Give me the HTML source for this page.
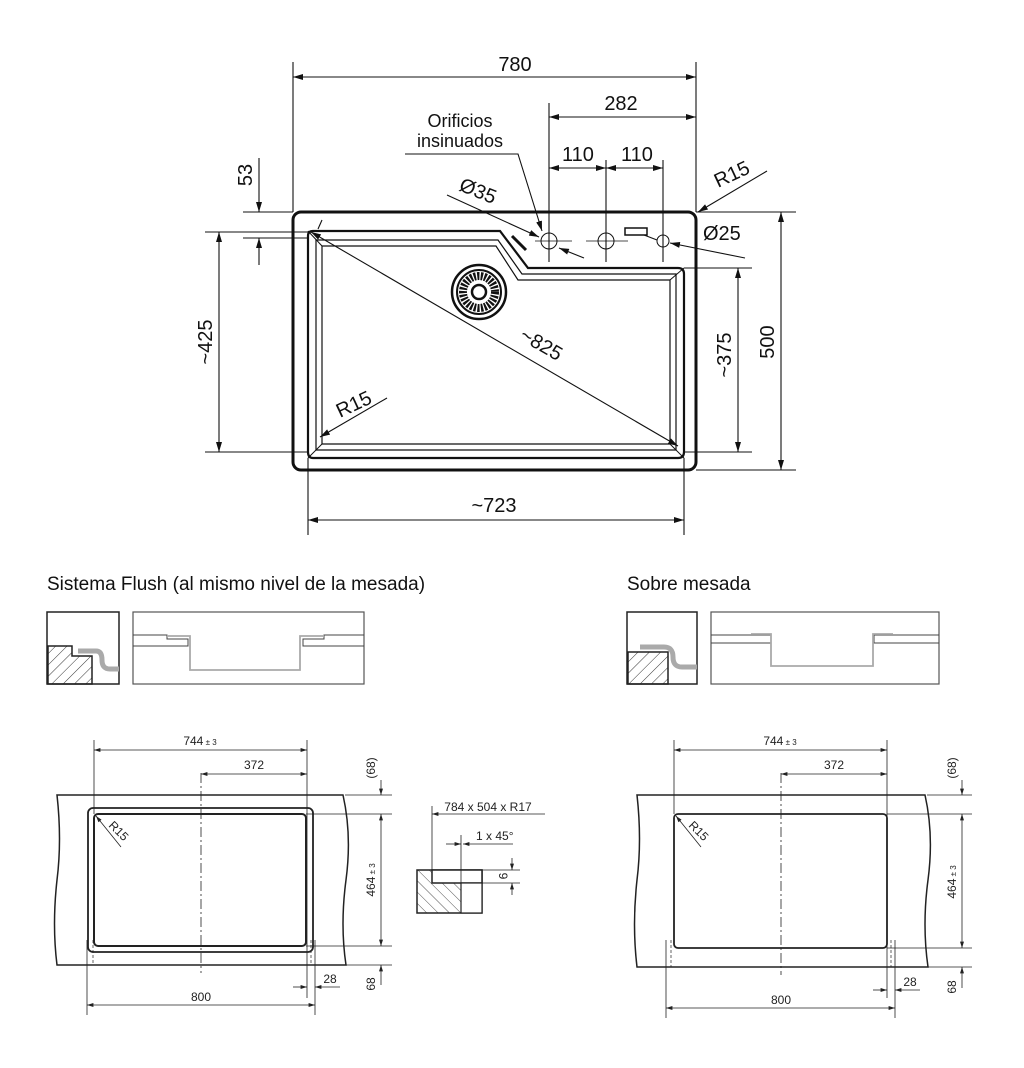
<!DOCTYPE html>
<html><head><meta charset="utf-8"><style>
html,body{margin:0;padding:0;background:#fff;}
svg{display:block;font-family:"Liberation Sans",Arial,sans-serif;}
</style></head><body>
<svg width="1024" height="1068" viewBox="0 0 1024 1068" xmlns="http://www.w3.org/2000/svg">
<defs>
<marker id="a" viewBox="0 0 10 6" refX="10" refY="3" markerWidth="10" markerHeight="6" orient="auto-start-reverse" markerUnits="userSpaceOnUse"><path d="M0,0L10,3L0,6z" fill="#111"/></marker>
<marker id="s" viewBox="0 0 8 5" refX="8" refY="2.5" markerWidth="7" markerHeight="4" orient="auto-start-reverse" markerUnits="userSpaceOnUse"><path d="M0,0L8,2.5L0,5z" fill="#222"/></marker>
<pattern id="h" width="8" height="8" patternUnits="userSpaceOnUse" patternTransform="rotate(45)"><line x1="0" y1="0" x2="0" y2="8" stroke="#333" stroke-width="1"/></pattern>
<pattern id="h2" width="8" height="8" patternUnits="userSpaceOnUse" patternTransform="rotate(-45)"><line x1="0" y1="0" x2="0" y2="8" stroke="#555" stroke-width="1"/></pattern>
</defs>
<g fill="none" stroke="#111">
<rect x="293" y="212" width="403" height="258" rx="8" stroke-width="3"/>
<path d="M308,236 Q308,231 313,231 L500,231 L528,268 L678,268 Q684,268 684,274 L684,452 Q684,458 678,458 L313,458 Q308,458 308,452 Z" stroke-width="2.2"/>
<path d="M316,240 L498,240 L522,274 L676,274 L676,450 L316,450 Z" stroke-width="1.2"/>
<path d="M322,246 L496,246 L518,280 L670,280 L670,444 L322,444 Z" stroke-width="1.2"/>
<line x1="308" y1="231" x2="322" y2="246" stroke-width="1"/>
<line x1="684" y1="458" x2="670" y2="444" stroke-width="1"/>
<line x1="308" y1="458" x2="322" y2="444" stroke-width="1"/>
<line x1="684" y1="268" x2="670" y2="280" stroke-width="1"/>
<line x1="512" y1="236" x2="526" y2="250" stroke-width="3"/>
<circle cx="479" cy="292" r="27" stroke-width="2.5"/>
<circle cx="479" cy="292" r="22" stroke-width="2"/>
<circle cx="479" cy="292" r="16" stroke-width="8" stroke-dasharray="2.2 1.3"/>
<circle cx="479" cy="292" r="7" stroke-width="2.5"/>
<circle cx="549" cy="241" r="8" stroke-width="1"/>
<circle cx="606" cy="241" r="8" stroke-width="1"/>
<circle cx="663" cy="241" r="6" stroke-width="1"/>
<rect x="625" y="228" width="22" height="7" stroke-width="1.5"/>
<line x1="535" y1="241" x2="572" y2="241" stroke-width="0.8"/><line x1="586" y1="241" x2="628" y2="241" stroke-width="0.8"/>
<g stroke-width="1.1">
<line x1="293" y1="62" x2="293" y2="212"/><line x1="696" y1="62" x2="696" y2="212"/>
<line x1="293" y1="77" x2="696" y2="77" marker-start="url(#a)" marker-end="url(#a)"/>
<line x1="549" y1="103" x2="549" y2="262"/><line x1="606" y1="160" x2="606" y2="262"/><line x1="663" y1="160" x2="663" y2="262"/>
<line x1="549" y1="117" x2="696" y2="117" marker-start="url(#a)" marker-end="url(#a)"/>
<line x1="549" y1="168" x2="606" y2="168" marker-start="url(#a)" marker-end="url(#a)"/>
<line x1="606" y1="168" x2="663" y2="168" marker-start="url(#a)" marker-end="url(#a)"/>
<polyline points="405,154 518,154 542,231" marker-end="url(#a)"/>
<line x1="447" y1="195" x2="539" y2="237" marker-end="url(#a)"/>
<line x1="584" y1="258" x2="559" y2="248" marker-end="url(#a)"/>
<line x1="767" y1="171" x2="698" y2="212" marker-end="url(#a)"/>
<line x1="745" y1="258" x2="670" y2="243" marker-end="url(#a)"/>
<line x1="644" y1="235" x2="657" y2="240"/>
<line x1="243" y1="212" x2="293" y2="212"/><line x1="243" y1="238" x2="308" y2="238"/>
<line x1="259" y1="158" x2="259" y2="212" marker-end="url(#a)"/>
<line x1="259" y1="265" x2="259" y2="238" marker-end="url(#a)"/>
<line x1="205" y1="232" x2="308" y2="232"/><line x1="205" y1="452" x2="308" y2="452"/>
<line x1="219" y1="232" x2="219" y2="452" marker-start="url(#a)" marker-end="url(#a)"/>
<line x1="684" y1="268" x2="752" y2="268"/><line x1="684" y1="452" x2="752" y2="452"/>
<line x1="738" y1="268" x2="738" y2="452" marker-start="url(#a)" marker-end="url(#a)"/>
<line x1="696" y1="212" x2="796" y2="212"/><line x1="696" y1="470" x2="796" y2="470"/>
<line x1="781" y1="212" x2="781" y2="470" marker-start="url(#a)" marker-end="url(#a)"/>
<line x1="308" y1="458" x2="308" y2="535"/><line x1="684" y1="458" x2="684" y2="535"/>
<line x1="308" y1="520" x2="684" y2="520" marker-start="url(#a)" marker-end="url(#a)"/>
<line x1="311" y1="232" x2="678" y2="446" marker-start="url(#a)" marker-end="url(#a)"/>
<line x1="318" y1="229" x2="322" y2="220"/>
<line x1="387" y1="398" x2="320" y2="437" marker-end="url(#a)"/>
</g>
</g>
<g fill="#111">
<text x="515" y="71" font-size="20" text-anchor="middle">780</text>
<text x="621" y="110" font-size="20" text-anchor="middle">282</text>
<text x="578" y="161" font-size="20" text-anchor="middle">110</text>
<text x="637" y="161" font-size="20" text-anchor="middle">110</text>
<text x="460" y="127" font-size="18" text-anchor="middle">Orificios</text>
<text x="460" y="147" font-size="18" text-anchor="middle">insinuados</text>
<text x="0" y="0" font-size="20" transform="translate(458,190) rotate(22)">Ø35</text>
<text x="0" y="0" font-size="20" transform="translate(718,188) rotate(-25)">R15</text>
<text x="703" y="240" font-size="20">Ø25</text>
<text x="0" y="0" font-size="20" text-anchor="middle" transform="translate(252,175) rotate(-90)">53</text>
<text x="0" y="0" font-size="20" text-anchor="middle" transform="translate(212,342) rotate(-90)">~425</text>
<text x="0" y="0" font-size="20" text-anchor="middle" transform="translate(731,355) rotate(-90)">~375</text>
<text x="0" y="0" font-size="20" text-anchor="middle" transform="translate(774,342) rotate(-90)">500</text>
<text x="494" y="512" font-size="20" text-anchor="middle">~723</text>
<text x="0" y="0" font-size="20" text-anchor="middle" transform="translate(538,350) rotate(30)">~825</text>
<text x="0" y="0" font-size="20" transform="translate(340,418) rotate(-25)">R15</text>
<text x="47" y="590" font-size="19">Sistema Flush (al mismo nivel de la mesada)</text>
<text x="627" y="590" font-size="19">Sobre mesada</text>
</g>

<g fill="none">
<rect x="47" y="612" width="72" height="72" stroke="#222" stroke-width="1.5"/>
<path d="M48,646 L72,646 L72,656 L92,656 L92,684 L48,684 Z" fill="url(#h)" stroke="#222" stroke-width="1.5"/>
<path d="M78,651 L96,651 Q102,651 102,660 Q102,669 110,669 L119,669" stroke="#aaa" stroke-width="5"/>
<rect x="133" y="612" width="231" height="72" stroke="#555" stroke-width="1.2"/>
<path d="M133,635 L167,635 L167,639 L188,639 L188,646 L133,646" stroke="#444" stroke-width="1"/>
<path d="M364,635 L324,635 L324,639 L303,639 L303,646 L364,646" stroke="#444" stroke-width="1"/>
<path d="M167,636 L190,636 L190,670 L300,670 L300,636 L324,636" stroke="#aaa" stroke-width="1.8"/>
<rect x="627" y="612" width="70" height="72" stroke="#222" stroke-width="1.5"/>
<path d="M628,652 L668,652 L668,684 L628,684 Z" fill="url(#h)" stroke="#222" stroke-width="1.5"/>
<path d="M640,647 L664,647 Q673,647 673,657 Q673,667 682,667 L697,667" stroke="#aaa" stroke-width="5"/>
<rect x="711" y="612" width="228" height="72" stroke="#555" stroke-width="1.2"/>
<path d="M711,635 L771,635 L771,643 L711,643" stroke="#444" stroke-width="1"/>
<path d="M939,635 L874,635 L874,643 L939,643" stroke="#444" stroke-width="1"/>
<path d="M751,634 L771,634 L771,666 L873,666 L873,634 L893,634" stroke="#aaa" stroke-width="1.8"/>
</g>

<g fill="none" stroke="#222" stroke-width="1">
<path d="M57,795 L343,795 Q352,835 346,880 Q340,925 346,965 L57,965 Q52,925 57,880 Q62,840 57,795 Z" stroke-width="1.5"/>
<rect x="88" y="808" width="225" height="144" rx="5" stroke-width="1.8"/>
<rect x="94" y="814" width="212" height="132" rx="4" stroke-width="2"/>
<line x1="201" y1="773" x2="201" y2="973" stroke-dasharray="10 3 2 3" stroke-width="0.8"/>
<line x1="94" y1="740" x2="94" y2="814" stroke-width="0.8"/><line x1="307" y1="740" x2="307" y2="998" stroke-width="0.8"/>
<line x1="94" y1="750" x2="307" y2="750" marker-start="url(#s)" marker-end="url(#s)" stroke-width="0.8"/>
<line x1="201" y1="774" x2="307" y2="774" marker-start="url(#s)" marker-end="url(#s)" stroke-width="0.8"/>
<line x1="87" y1="940" x2="87" y2="1015" stroke-width="0.8"/><line x1="315" y1="940" x2="315" y2="1015" stroke-width="0.8"/>
<line x1="87" y1="1005" x2="315" y2="1005" marker-start="url(#s)" marker-end="url(#s)" stroke-width="0.8"/>
<line x1="93" y1="940" x2="93" y2="965" stroke-dasharray="3 2" stroke-width="0.7"/><line x1="311" y1="940" x2="311" y2="965" stroke-dasharray="3 2" stroke-width="0.7"/>
<line x1="293" y1="987" x2="307" y2="987" marker-end="url(#s)" stroke-width="0.8"/>
<line x1="340" y1="987" x2="315" y2="987" marker-end="url(#s)" stroke-width="0.8"/>
<line x1="345" y1="795" x2="392" y2="795" stroke-width="0.8"/><line x1="306" y1="814" x2="392" y2="814" stroke-width="0.8"/>
<line x1="306" y1="946" x2="392" y2="946" stroke-width="0.8"/><line x1="346" y1="965" x2="392" y2="965" stroke-width="0.8"/>
<line x1="381" y1="780" x2="381" y2="795" marker-end="url(#s)" stroke-width="0.8"/>
<line x1="381" y1="814" x2="381" y2="946" marker-start="url(#s)" marker-end="url(#s)" stroke-width="0.8"/>
<line x1="381" y1="985" x2="381" y2="965" marker-end="url(#s)" stroke-width="0.8"/>
<line x1="121" y1="847" x2="96" y2="816" marker-end="url(#s)" stroke-width="0.8"/>
</g>
<g fill="#222" font-size="12">
<text x="200" y="745" text-anchor="middle">744<tspan font-size="8"> ± 3</tspan></text>
<text x="254" y="769" text-anchor="middle">372</text>
<text x="201" y="1001" text-anchor="middle">800</text>
<text x="330" y="983" text-anchor="middle">28</text>
<text x="0" y="0" text-anchor="middle" transform="translate(375,768) rotate(-90)">(68)</text>
<text x="0" y="0" text-anchor="middle" transform="translate(375,880) rotate(-90)">464<tspan font-size="8"> ± 3</tspan></text>
<text x="0" y="0" text-anchor="middle" transform="translate(375,984) rotate(-90)">68</text>
<text x="0" y="0" transform="translate(108,826) rotate(45)">R15</text>
</g>

<g fill="none" stroke="#222" stroke-width="1">
<rect x="417" y="870" width="65" height="43" fill="url(#h2)" stroke-width="1.5"/>
<rect x="432" y="870" width="50" height="13" fill="#fff" stroke-width="1.5"/>
<rect x="461" y="883" width="21" height="30" fill="#fff" stroke-width="1.2"/>
<line x1="432" y1="806" x2="432" y2="870" stroke-width="0.8"/>
<line x1="432" y1="814" x2="545" y2="814" marker-start="url(#s)" stroke-width="0.8"/>
<line x1="461" y1="835" x2="461" y2="913" stroke-width="0.8"/>
<line x1="446" y1="844" x2="461" y2="844" marker-end="url(#s)" stroke-width="0.8"/>
<line x1="513" y1="844" x2="463" y2="844" marker-end="url(#s)" stroke-width="0.8"/>
<line x1="482" y1="870" x2="520" y2="870" stroke-width="0.8"/><line x1="482" y1="883" x2="520" y2="883" stroke-width="0.8"/>
<line x1="512" y1="858" x2="512" y2="870" marker-end="url(#s)" stroke-width="0.8"/>
<line x1="512" y1="895" x2="512" y2="883" marker-end="url(#s)" stroke-width="0.8"/>
</g>
<g fill="#222" font-size="12">
<text x="488" y="811" text-anchor="middle">784 x 504 x R17</text>
<text x="476" y="840">1 x 45°</text>
<text x="0" y="0" text-anchor="middle" transform="translate(499,876) rotate(90)">9</text>
</g>

<g fill="none" stroke="#222" stroke-width="1">
<path d="M637,795 L925,795 Q934,835 928,880 Q922,925 928,967 L637,967 Q632,925 637,880 Q642,840 637,795 Z" stroke-width="1.5"/>
<rect x="674" y="814" width="213" height="134" rx="4" stroke-width="1.8"/>
<line x1="781" y1="773" x2="781" y2="975" stroke-dasharray="10 3 2 3" stroke-width="0.8"/>
<line x1="674" y1="740" x2="674" y2="814" stroke-width="0.8"/><line x1="887" y1="740" x2="887" y2="998" stroke-width="0.8"/>
<line x1="674" y1="750" x2="887" y2="750" marker-start="url(#s)" marker-end="url(#s)" stroke-width="0.8"/>
<line x1="781" y1="774" x2="887" y2="774" marker-start="url(#s)" marker-end="url(#s)" stroke-width="0.8"/>
<line x1="666" y1="940" x2="666" y2="1018" stroke-width="0.8"/><line x1="895" y1="940" x2="895" y2="1018" stroke-width="0.8"/>
<line x1="666" y1="1008" x2="895" y2="1008" marker-start="url(#s)" marker-end="url(#s)" stroke-width="0.8"/>
<line x1="671" y1="940" x2="671" y2="967" stroke-dasharray="3 2" stroke-width="0.7"/><line x1="891" y1="940" x2="891" y2="967" stroke-dasharray="3 2" stroke-width="0.7"/>
<line x1="873" y1="990" x2="887" y2="990" marker-end="url(#s)" stroke-width="0.8"/>
<line x1="920" y1="990" x2="895" y2="990" marker-end="url(#s)" stroke-width="0.8"/>
<line x1="927" y1="795" x2="972" y2="795" stroke-width="0.8"/><line x1="887" y1="814" x2="972" y2="814" stroke-width="0.8"/>
<line x1="887" y1="948" x2="972" y2="948" stroke-width="0.8"/><line x1="928" y1="967" x2="972" y2="967" stroke-width="0.8"/>
<line x1="962" y1="780" x2="962" y2="795" marker-end="url(#s)" stroke-width="0.8"/>
<line x1="962" y1="814" x2="962" y2="948" marker-start="url(#s)" marker-end="url(#s)" stroke-width="0.8"/>
<line x1="962" y1="988" x2="962" y2="967" marker-end="url(#s)" stroke-width="0.8"/>
<line x1="701" y1="847" x2="676" y2="816" marker-end="url(#s)" stroke-width="0.8"/>
</g>
<g fill="#222" font-size="12">
<text x="780" y="745" text-anchor="middle">744<tspan font-size="8"> ± 3</tspan></text>
<text x="834" y="769" text-anchor="middle">372</text>
<text x="781" y="1004" text-anchor="middle">800</text>
<text x="910" y="986" text-anchor="middle">28</text>
<text x="0" y="0" text-anchor="middle" transform="translate(956,768) rotate(-90)">(68)</text>
<text x="0" y="0" text-anchor="middle" transform="translate(956,882) rotate(-90)">464<tspan font-size="8"> ± 3</tspan></text>
<text x="0" y="0" text-anchor="middle" transform="translate(956,987) rotate(-90)">68</text>
<text x="0" y="0" transform="translate(688,826) rotate(45)">R15</text>
</g>
</svg>
</body></html>
